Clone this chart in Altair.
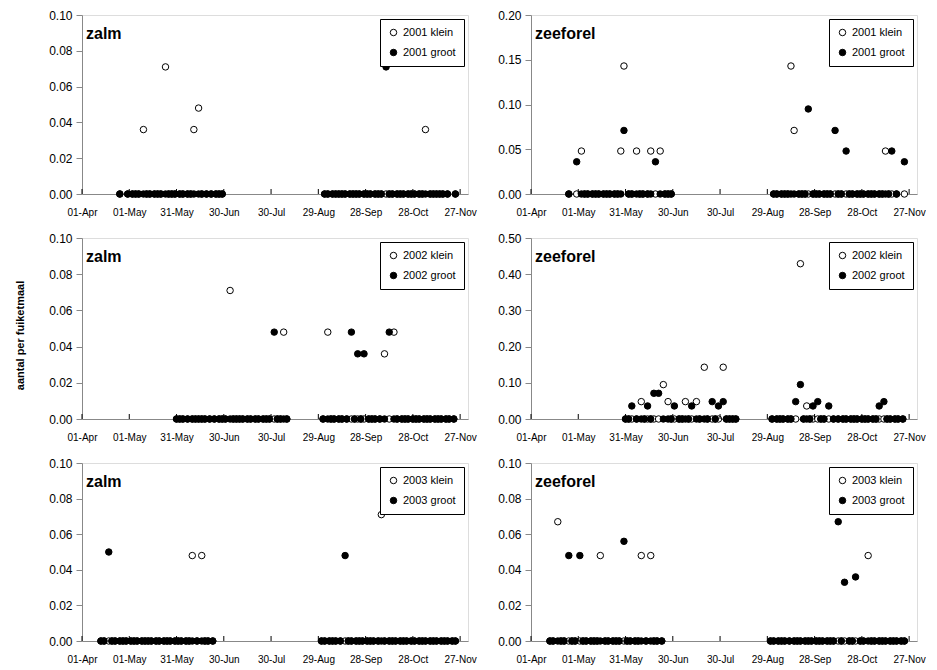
import altair as alt
import pandas as pd

REF_YEAR = 2001
TICK_DATES = ["04-01", "05-01", "05-31", "06-30", "07-30", "08-29", "09-28", "10-28", "11-27"]
X_DOMAIN = ["04-01", "12-02"]

Y_TICKS_010 = [0.0, 0.02, 0.04, 0.06, 0.08, 0.10]
Y_TICKS_020 = [0.0, 0.05, 0.10, 0.15, 0.20]
Y_TICKS_050 = [0.0, 0.10, 0.20, 0.30, 0.40, 0.50]

# sampling dates (MM-DD) per year
DATES_2001 = [
    "04-25", "04-30", "05-03", "05-05", "05-07", "05-10", "05-12", "05-14", "05-17", "05-19",
    "05-21", "05-24", "05-26", "05-28", "05-30", "06-02", "06-04", "06-07", "06-09", "06-11",
    "06-14", "06-16", "06-19", "06-22", "06-25", "06-27", "06-29",
    "09-02", "09-04", "09-07", "09-09", "09-11", "09-13", "09-15", "09-18", "09-20", "09-22",
    "09-24", "09-27", "09-29", "10-01", "10-04", "10-06", "10-08", "10-11", "10-13", "10-15",
    "10-18", "10-20", "10-22", "10-25", "10-27", "10-29", "11-01", "11-03", "11-05", "11-08",
    "11-10", "11-12", "11-14", "11-16", "11-19", "11-24",
]
DATES_2002 = [
    "05-31", "06-02", "06-04", "06-07", "06-10", "06-12", "06-14", "06-16", "06-18", "06-21",
    "06-24", "06-27", "06-29", "07-01", "07-04", "07-06", "07-08", "07-10", "07-12", "07-15",
    "07-17", "07-20", "07-22", "07-25", "07-27", "07-29", "08-01", "08-03", "08-05", "08-07",
    "08-09",
    "09-01", "09-04", "09-06", "09-08", "09-11", "09-13", "09-16", "09-19", "09-21", "09-23",
    "09-25", "09-27", "09-30", "10-02", "10-04", "10-07", "10-10", "10-13", "10-16", "10-18",
    "10-21", "10-23", "10-25", "10-28", "10-30", "11-01", "11-04", "11-06", "11-08", "11-11",
    "11-13", "11-15", "11-18", "11-20", "11-23",
]
DATES_2003 = [
    "04-13", "04-15", "04-18", "04-20", "04-22", "04-25", "04-27", "04-29", "05-02", "05-04",
    "05-06", "05-09", "05-11", "05-13", "05-15", "05-18", "05-20", "05-23", "05-25", "05-27",
    "05-30", "06-01", "06-03", "06-06", "06-08", "06-10", "06-13", "06-16", "06-18", "06-20",
    "06-23",
    "08-31", "09-02", "09-05", "09-07", "09-09", "09-12", "09-15", "09-17", "09-19", "09-22",
    "09-24", "09-26", "09-29", "10-01", "10-03", "10-06", "10-08", "10-10", "10-13", "10-15",
    "10-17", "10-20", "10-22", "10-24", "10-27", "10-29", "11-01", "11-03", "11-05", "11-08",
    "11-10", "11-12", "11-15", "11-17", "11-19", "11-22", "11-24",
]

# catches per fyke-net day that are not zero (all other sampling dates read as 0)
ZALM_2001_KLEIN = {"05-10": 0.036, "05-24": 0.071, "06-11": 0.036, "06-14": 0.048, "11-05": 0.036}
ZALM_2001_GROOT = {"10-11": 0.071}
ZEEFOREL_2001_KLEIN = {"05-03": 0.048, "05-28": 0.048, "05-30": 0.143, "06-07": 0.048, "06-16": 0.048,
                       "06-22": 0.048, "09-13": 0.143, "09-15": 0.071, "11-12": 0.048}
ZEEFOREL_2001_GROOT = {"04-30": 0.036, "05-30": 0.071, "06-19": 0.036, "09-24": 0.095, "10-11": 0.071,
                       "10-18": 0.048, "11-16": 0.048, "11-24": 0.036}

ZALM_2002_KLEIN = {"07-04": 0.071, "08-07": 0.048, "09-04": 0.048, "10-10": 0.036, "10-16": 0.048}
ZALM_2002_GROOT = {"08-01": 0.048, "09-19": 0.048, "09-23": 0.036, "09-27": 0.036, "10-13": 0.048}
ZEEFOREL_2002_KLEIN = {"06-10": 0.048, "06-24": 0.095, "06-27": 0.048, "07-08": 0.048, "07-15": 0.048,
                       "07-20": 0.143, "08-01": 0.143, "09-19": 0.429, "09-23": 0.036}
ZEEFOREL_2002_GROOT = {"06-04": 0.036, "06-14": 0.036, "06-18": 0.071, "06-21": 0.071, "07-01": 0.036,
                       "07-12": 0.036, "07-25": 0.048, "07-29": 0.036, "08-01": 0.048, "09-16": 0.048,
                       "09-19": 0.095, "09-27": 0.036, "09-30": 0.048, "10-07": 0.036, "11-08": 0.036,
                       "11-11": 0.048}

ZALM_2003_KLEIN = {"06-10": 0.048, "06-16": 0.048, "10-08": 0.071}
ZALM_2003_GROOT = {"04-18": 0.050, "09-15": 0.048}
ZEEFOREL_2003_KLEIN = {"04-18": 0.067, "05-15": 0.048, "06-10": 0.048, "06-16": 0.048, "11-01": 0.048}
ZEEFOREL_2003_GROOT = {"04-25": 0.048, "05-02": 0.048, "05-30": 0.056, "10-13": 0.067, "10-17": 0.033,
                       "10-24": 0.036}

FONT = "Liberation Sans"
W = 386
Y_TITLE = "aantal per fuiketmaal"


def dt(md):
    m, d = md.split("-")
    return alt.DateTime(year=REF_YEAR, month=int(m), date=int(d), utc=True)


def panel(species, year, dates, klein, groot, yticks, height, y_title, title_opacity=1, title_y=None):
    rows = []
    for order, (label, series) in enumerate([("klein", klein), ("groot", groot)]):
        for md in dates:
            rows.append({"date": f"{REF_YEAR}-{md}", "serie": f"{year} {label}",
                         "ord": order, "v": series.get(md, 0.0)})
    df = pd.DataFrame(rows)
    y_axis_args = dict(values=yticks, format=".2f", tickSize=6, labelPadding=4, grid=False,
                       labelFontSize=12)
    if y_title:
        y_axis_args.update(title=y_title, titleOpacity=title_opacity, titlePadding=23)
    else:
        y_axis_args.update(title=None)
    if title_y is not None:
        y_axis_args["titleY"] = title_y
    x_enc = alt.X("date:T",
                  scale=alt.Scale(type="utc", domain=[dt(X_DOMAIN[0]), dt(X_DOMAIN[1])]),
                  axis=alt.Axis(values=[dt(t) for t in TICK_DATES],
                                labelExpr="utcFormat(datum.value, '%d-%b')", labelFlush=False,
                                title=None, ticks=False, labelPadding=13, grid=False))
    y_enc = alt.Y("v:Q", scale=alt.Scale(domain=[yticks[0], yticks[-1]], nice=False),
                  axis=alt.Axis(**y_axis_args))
    pts = alt.Chart(df).mark_circle(size=42, stroke="black", strokeWidth=1, opacity=1).encode(
        x=x_enc, y=y_enc,
        fill=alt.Fill("serie:N",
                      scale=alt.Scale(domain=[f"{year} klein", f"{year} groot"], range=["white", "black"]),
                      legend=alt.Legend(title=None, orient="top-right", offset=4, padding=8,
                                        strokeColor="black", fillColor="white", labelFont=FONT,
                                        labelFontSize=11, labelColor="black", symbolType="circle",
                                        symbolSize=42, symbolStrokeColor="black", symbolStrokeWidth=1,
                                        rowPadding=8, labelOffset=4, symbolOpacity=1)),
        order=alt.Order("ord:Q"),
    )
    xticks = alt.Chart(pd.DataFrame({"date": [f"{REF_YEAR}-{t}" for t in TICK_DATES],
                                     "v": [0.0] * len(TICK_DATES)})) \
        .mark_tick(orient="vertical", size=5, thickness=1, color="black", yOffset=-2.5, opacity=1).encode(
            x=x_enc, y=y_enc)
    label = alt.Chart(pd.DataFrame({"t": [species]})).mark_text(
        font=FONT, fontSize=16, fontWeight="bold", align="left", baseline="alphabetic", color="black"
    ).encode(text="t:N", x=alt.value(4), y=alt.value(24))
    return alt.layer(pts, xticks, label).properties(width=W, height=height)


def row(*panels):
    return alt.hconcat(*panels, spacing=20).resolve_scale(
        fill="independent", y="independent").resolve_legend(fill="independent")


row1 = row(
    panel("zalm", "2001", DATES_2001, ZALM_2001_KLEIN, ZALM_2001_GROOT, Y_TICKS_010, 179, Y_TITLE, 0),
    panel("zeeforel", "2001", DATES_2001, ZEEFOREL_2001_KLEIN, ZEEFOREL_2001_GROOT, Y_TICKS_020, 179, None))
row2 = row(
    panel("zalm", "2002", DATES_2002, ZALM_2002_KLEIN, ZALM_2002_GROOT, Y_TICKS_010, 181, Y_TITLE, 1,
          title_y=97),
    panel("zeeforel", "2002", DATES_2002, ZEEFOREL_2002_KLEIN, ZEEFOREL_2002_GROOT, Y_TICKS_050, 181, None))
row3 = row(
    panel("zalm", "2003", DATES_2003, ZALM_2003_KLEIN, ZALM_2003_GROOT, Y_TICKS_010, 178, Y_TITLE, 0),
    panel("zeeforel", "2003", DATES_2003, ZEEFOREL_2003_KLEIN, ZEEFOREL_2003_GROOT, Y_TICKS_010, 178, None))

chart = alt.vconcat(row1, row2, row3, spacing=13).resolve_scale(
    fill="independent", y="independent").resolve_legend(fill="independent").properties(
    padding={"left": 6, "top": 0, "right": 0, "bottom": 0}
).configure_view(stroke="#666666", strokeWidth=1).configure_axis(
    labelFont=FONT, labelFontSize=11, labelColor="black", domainColor="black", tickColor="black",
    grid=False, labelOverlap=False, titleFont=FONT, titleFontSize=12, titleFontWeight="bold",
    titleColor="black"
).configure(background="white")

chart.save("out.html", embed_options={"renderer": "svg", "actions": False})
